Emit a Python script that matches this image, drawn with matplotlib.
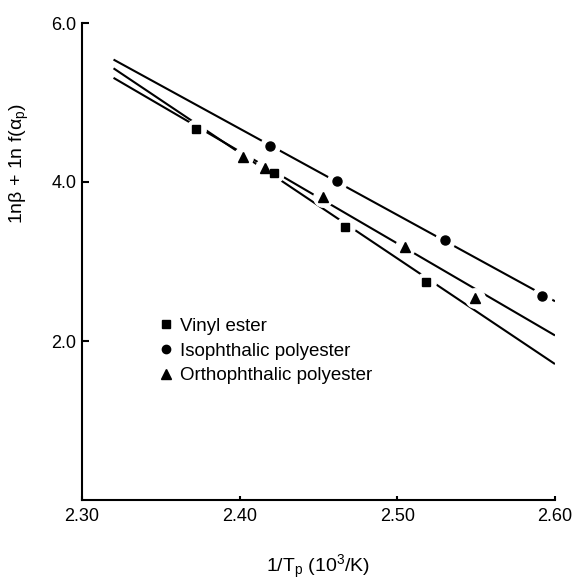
import matplotlib
matplotlib.use('Agg')
import matplotlib.pyplot as plt
from matplotlib.lines import Line2D

# measured peak data (1/Tp in 10^3/K, ln beta + ln f(alpha_p))
vinyl_x = [2.372, 2.422, 2.467, 2.518]
vinyl_y = [4.67, 4.11, 3.43, 2.74]
iso_x = [2.419, 2.462, 2.530, 2.592]
iso_y = [4.45, 4.01, 3.27, 2.57]
ortho_x = [2.402, 2.416, 2.453, 2.505, 2.549]
ortho_y = [4.31, 4.18, 3.81, 3.18, 2.54]

# straight lines as drawn in the figure (values at the two ends)
fit_x = [2.32, 2.60]
vinyl_fit = [5.43, 1.71]
iso_fit = [5.54, 2.50]
ortho_fit = [5.31, 2.07]

labels = ['Vinyl ester', 'Isophthalic polyester', 'Orthophthalic polyester']
x_ticks = [2.30, 2.40, 2.50, 2.60]
y_ticks = [2.0, 4.0, 6.0]

plt.rcParams['font.family'] = ['Liberation Sans', 'DejaVu Sans']
plt.rcParams['mathtext.fontset'] = 'custom'
plt.rcParams['mathtext.rm'] = 'Liberation Sans'
plt.rcParams['mathtext.it'] = 'Liberation Sans:italic'

fig = plt.figure(figsize=(5.77, 5.80), dpi=100)
ax = fig.add_axes([82 / 577, 1 - 500 / 580, 473 / 577, 477 / 580])

series = [
    (vinyl_x, vinyl_y, vinyl_fit, 's', 6.0),
    (iso_x, iso_y, iso_fit, 'o', 6.5),
    (ortho_x, ortho_y, ortho_fit, '^', 7.0),
]
handles = []
for (xs, ys, fit, mk, ms), lab in zip(series, labels):
    ax.plot(fit_x, fit, color='black', lw=1.5, zorder=1, solid_capstyle='butt')
    # white halo gives the gap in the line around each point
    ax.plot(xs, ys, ls='none', marker='o', ms=14, color='white', zorder=2)
    ax.plot(xs, ys, ls='none', marker=mk, ms=ms, color='black', zorder=3)
    handles.append(Line2D([], [], ls='none', marker=mk, ms=ms - 0.5, color='black', label=lab))

ax.set_xlim(2.30, 2.60)
ax.set_ylim(0, 6.0)
ax.set_xticks(x_ticks)
ax.set_xticklabels([f'{v:.2f}' for v in x_ticks])
ax.set_yticks(y_ticks)
ax.set_yticklabels([f'{v:.1f}' for v in y_ticks])

for side in ['top', 'right']:
    ax.spines[side].set_visible(False)
for side in ['left', 'bottom']:
    ax.spines[side].set_linewidth(1.5)
ax.tick_params(axis='y', direction='in', length=5, width=1.5, pad=4, labelsize=13)
ax.tick_params(axis='x', direction='in', length=3, width=1.5, pad=6, labelsize=13)

ax.set_ylabel('1nβ + 1n f(α$_{\\rm p}$)', fontsize=14)
ax.yaxis.set_label_coords(-0.108, 0.706)
ax.set_xlabel('1/T$_{\\rm p}$ (10$^{\\rm 3}$/K)', fontsize=14)
ax.xaxis.set_label_coords(0.5, -0.111)

ax.legend(handles=handles, loc='upper left', bbox_to_anchor=(0.165, 0.382),
          frameon=False, fontsize=13.5, handlelength=0.6, handletextpad=0.45,
          labelspacing=0.4, borderpad=0, borderaxespad=0)

fig.savefig('out.png', dpi=100)
